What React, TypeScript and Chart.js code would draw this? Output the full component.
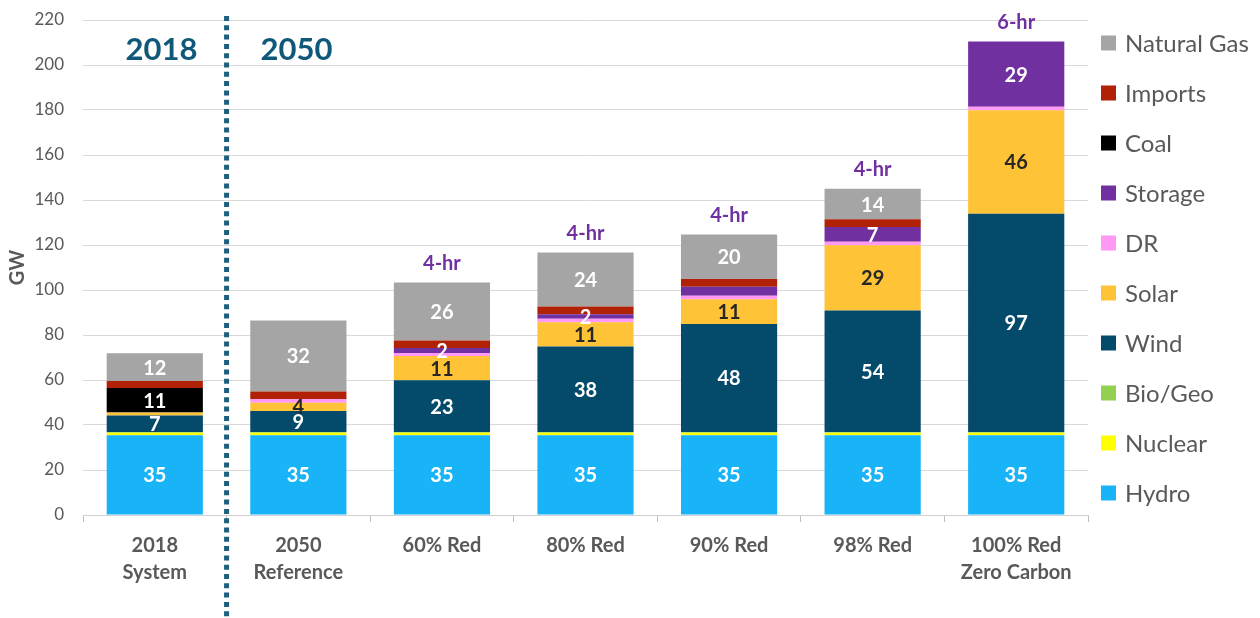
import { useEffect, useRef } from 'react';
import { Chart, registerables } from 'chart.js';

Chart.register(...registerables);

const FONT = 'Lato, "Open Sans", sans-serif';

const categories = [
  ['2018', 'System'],
  ['2050', 'Reference'],
  ['60% Red'],
  ['80% Red'],
  ['90% Red'],
  ['98% Red'],
  ['100% Red', 'Zero Carbon'],
];

const hydro = [35.4, 35.4, 35.4, 35.4, 35.4, 35.4, 35.4];
const nuclear = [1.2, 1.2, 1.2, 1.2, 1.2, 1.2, 1.2];
const bioGeo = [0.3, 0.3, 0.3, 0.3, 0.3, 0.3, 0.3];
const wind = [7.3, 9.3, 23, 38, 48, 54, 97];
const solar = [1.4, 3.7, 10.8, 10.8, 11, 29, 46];
const dr = [0, 1.5, 1.3, 1.5, 1.6, 1.5, 1.5];
const storage = [0, 0, 2.2, 2, 4, 6.6, 29];
const coal = [10.8, 0, 0, 0, 0, 0, 0];
const imports = [3.2, 3.5, 3.4, 3.5, 3.4, 3.4, 0];
const naturalGas = [12.3, 31.5, 25.7, 24, 19.8, 13.6, 0];

const storageDuration = ['', '', '4-hr', '4-hr', '4-hr', '4-hr', '6-hr'];
const storageLabelShown = [false, false, true, true, false, true, true];

const periodHeaders = ['2018', '2050'];

const yMin = 0;
const yMax = 220;
const yStep = 20;

const series = [
  { label: 'Hydro', data: hydro, color: '#19B4F7', labeled: true, text: '#FFFFFF' },
  { label: 'Nuclear', data: nuclear, color: '#FFFF00', labeled: false, text: '#FFFFFF' },
  { label: 'Bio/Geo', data: bioGeo, color: '#92D050', labeled: false, text: '#FFFFFF' },
  { label: 'Wind', data: wind, color: '#044A6A', labeled: true, text: '#FFFFFF' },
  { label: 'Solar', data: solar, color: '#FFC337', labeled: true, text: '#262626' },
  { label: 'DR', data: dr, color: '#FF99F5', labeled: false, text: '#FFFFFF' },
  { label: 'Storage', data: storage, color: '#7030A0', labeled: true, text: '#FFFFFF' },
  { label: 'Coal', data: coal, color: '#000000', labeled: true, text: '#FFFFFF' },
  { label: 'Imports', data: imports, color: '#B02106', labeled: false, text: '#FFFFFF' },
  { label: 'Natural Gas', data: naturalGas, color: '#A5A5A5', labeled: true, text: '#FFFFFF' },
];

const overlayPlugin = {
  id: 'overlay',
  afterDatasetsDraw(chart: any) {
    const ctx = chart.ctx;
    const x = chart.scales.x;
    ctx.save();
    ctx.font = `bold 20px ${FONT}`;
    ctx.textAlign = 'center';
    ctx.textBaseline = 'middle';
    chart.data.datasets.forEach((ds: any, di: number) => {
      const s = series[di];
      if (!s.labeled) return;
      const meta = chart.getDatasetMeta(di);
      meta.data.forEach((bar: any, i: number) => {
        const v = ds.data[i];
        if (v < 2) return;
        if (s.label === 'Storage' && !storageLabelShown[i]) return;
        const p = bar.getProps(['x', 'y', 'base'], true);
        ctx.fillStyle = s.text;
        ctx.fillText(String(Math.round(v)), p.x, (p.y + p.base) / 2 + 1);
      });
    });
    const last = chart.getDatasetMeta(chart.data.datasets.length - 1);
    const yScale = chart.scales.y;
    ctx.font = `bold 20px ${FONT}`;
    ctx.fillStyle = '#7030A0';
    ctx.textBaseline = 'middle';
    storageDuration.forEach((t, i) => {
      if (!t) return;
      let total = 0;
      chart.data.datasets.forEach((ds: any) => (total += ds.data[i]));
      const top = yScale.getPixelForValue(total);
      ctx.fillText(t, last.data[i].x, top - 19);
    });
    const divX = (x.getPixelForValue(0) + x.getPixelForValue(1)) / 2;
    ctx.strokeStyle = '#1D5F7E';
    ctx.lineWidth = 5;
    ctx.setLineDash([5, 4.3]);
    ctx.beginPath();
    ctx.moveTo(divX, 16);
    ctx.lineTo(divX, chart.height);
    ctx.stroke();
    ctx.setLineDash([]);
    ctx.font = `bold 31px ${FONT}`;
    ctx.fillStyle = '#10587A';
    ctx.fillText(periodHeaders[0], divX - 65, 50);
    ctx.fillText(periodHeaders[1], divX + 70, 50);
    ctx.textAlign = 'left';
    ctx.font = `24px ${FONT}`;
    const items = chart.data.datasets.slice().reverse();
    items.forEach((ds: any, k: number) => {
      const cy = 43 + k * 50;
      ctx.fillStyle = ds.backgroundColor;
      ctx.fillRect(1101, cy - 7.5, 15, 15);
      ctx.fillStyle = '#595959';
      ctx.fillText(ds.label, 1125, cy + 1);
    });
    ctx.restore();
  },
};

export default function App() {
  const ref = useRef<HTMLCanvasElement>(null);
  useEffect(() => {
    document.body.style.margin = '0';
    const chart = new Chart(ref.current!, {
      type: 'bar',
      data: {
        labels: categories,
        datasets: series.map((s) => ({
          label: s.label,
          data: s.data,
          backgroundColor: s.color,
          borderWidth: 0,
          categoryPercentage: 1,
          barPercentage: 0.67,
        })),
      },
      options: {
        responsive: false,
        animation: false,
        devicePixelRatio: 1,
        layout: { padding: { left: 0, right: 172, top: 20, bottom: 0 } },
        plugins: {
          legend: { display: false },
          tooltip: { enabled: false },
        },
        scales: {
          x: {
            stacked: true,
            grid: { drawOnChartArea: false, drawTicks: true, tickLength: 7, color: '#BFBFBF' },
            border: { color: '#D0D0D0' },
            ticks: {
              color: '#595959',
              font: { family: FONT, size: 20, weight: 'bold', lineHeight: 1.35 },
              padding: 10,
              maxRotation: 0,
              autoSkip: false,
            },
            afterFit: (s: any) => {
              s.height = 103;
              s.paddingLeft = 0;
              s.paddingRight = 0;
            },
          },
          y: {
            stacked: true,
            min: yMin,
            max: yMax,
            grid: { color: '#D9D9D9', drawTicks: false },
            border: { display: false },
            ticks: {
              stepSize: yStep,
              color: '#595959',
              font: { family: FONT, size: 17 },
              padding: 19,
            },
            title: {
              display: true,
              text: 'GW',
              color: '#595959',
              font: { family: FONT, size: 20, weight: 'bold' },
              padding: { top: 6, bottom: 0 },
            },
            afterFit: (s: any) => {
              s.width = 83;
              s.paddingTop = 0;
              s.paddingBottom = 0;
            },
          },
        },
      } as any,
      plugins: [overlayPlugin],
    });
    return () => chart.destroy();
  }, []);
  return (
    <div style={{ position: 'absolute', left: 0, top: 0, width: 1260, height: 618 }}>
      <canvas ref={ref} width={1260} height={618} />
    </div>
  );
}
